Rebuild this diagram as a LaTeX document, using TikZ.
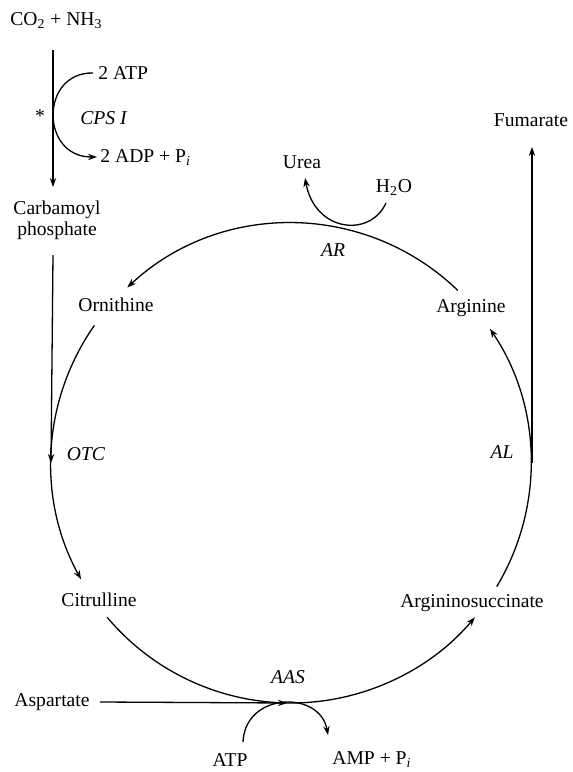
\documentclass[tikz,border=0pt]{standalone}
\usepackage{fontspec}
\setmainfont{Liberation Serif}
\usetikzlibrary{arrows.meta,calc}
\begin{document}
\begin{tikzpicture}[x=0.5pt,y=0.5pt,
  lbl/.style={inner sep=0pt, font=\fontsize{9.8}{10.5}\selectfont},
  enz/.style={inner sep=0pt, font=\fontsize{9.8}{10.5}\selectfont\itshape},
  conn/.style={line width=0.65pt},
  arr/.style={conn, -{Stealth[length=4.5pt,width=3.2pt]}}]
\useasboundingbox (0,0) rectangle (573,-772);
\coordinate (C) at (291,-463);
% labels
\node[lbl,anchor=west] (co2) at (10,-21) {CO\textsubscript{2} + NH\textsubscript{3}};
\node[lbl,anchor=west] (atp1) at (98,-73) {2 ATP};
\node[lbl] (star) at (40,-116) {*};
\node[enz,anchor=west] (cps) at (80,-118) {CPS I};
\node[lbl,anchor=west] (adp) at (100,-158) {2 ADP + P\textsubscript{\textit{i}}};
\node[lbl,align=center] (cp) at (57,-220) {Carbamoyl\\phosphate};
\node[lbl] (orn) at (116,-305) {Ornithine};
\node[enz] (otc) at (86,-454) {OTC};
\node[lbl] (cit) at (99,-600) {Citrulline};
\node[lbl] (asp) at (52,-702) {Aspartate};
\node[enz] (aas) at (288,-677) {AAS};
\node[lbl] (atp2) at (230,-760) {ATP};
\node[lbl,anchor=west] (amp) at (332,-760) {AMP + P\textsubscript{\textit{i}}};
\node[lbl] (asuc) at (472,-603) {Argininosuccinate};
\node[enz] (al) at (502,-452) {AL};
\node[lbl] (arg) at (471,-308) {Arginine};
\node[enz] (ar) at (333,-250) {AR};
\node[lbl] (urea) at (302,-162) {Urea};
\node[lbl] (h2o) at (394,-188) {H\textsubscript{2}O};
\node[lbl] (fum) at (531,-120) {Fumarate};
% coordinates
\coordinate (cpsTop) at (53,-50);
\coordinate (cpsBot) at (53,-187);
\coordinate (cpLow) at (53,-255);
\coordinate (L) at ($(C)+(180:240)$);
\coordinate (R) at ($(C)+(0:241)$);
\coordinate (B) at ($(C)+(270:240)$);
\coordinate (T) at ($(C)+(90:240)$);
% CPS I step
\draw[arr] (cpsTop) -- (cpsBot);
\draw[arr] ([xshift=-2.5pt]atp1.west) .. controls (40,-72) and (40,-157) .. ([xshift=-1.5pt,yshift=0.5pt]adp.west);
\draw[arr] (cpLow) -- (L);
% cycle arcs
\draw[arr] ($(C)+(46:240)$) arc[start angle=46,end angle=133,radius=240];
\draw[arr] ($(C)+(145:240)$) arc[start angle=145,end angle=209,radius=240];
\draw[arr] ($(C)+(220:240)$) arc[start angle=220,end angle=320,radius=240];
\draw[arr] ($(C)+(-31:240)$) arc[start angle=-31,end angle=34,radius=240];
% side reactions
\draw[arr] (R) -- ([yshift=-10pt]R |- fum.south);
\draw[arr] ([xshift=5pt]asp.east) -- ([xshift=-2pt]B);
\draw[arr] (386,-203) .. controls (370,-238) and (315,-232) .. (305,-178);
\draw[arr] (243,-742) .. controls (245,-692) and (320,-690) .. (328,-735);
\end{tikzpicture}
\end{document}
